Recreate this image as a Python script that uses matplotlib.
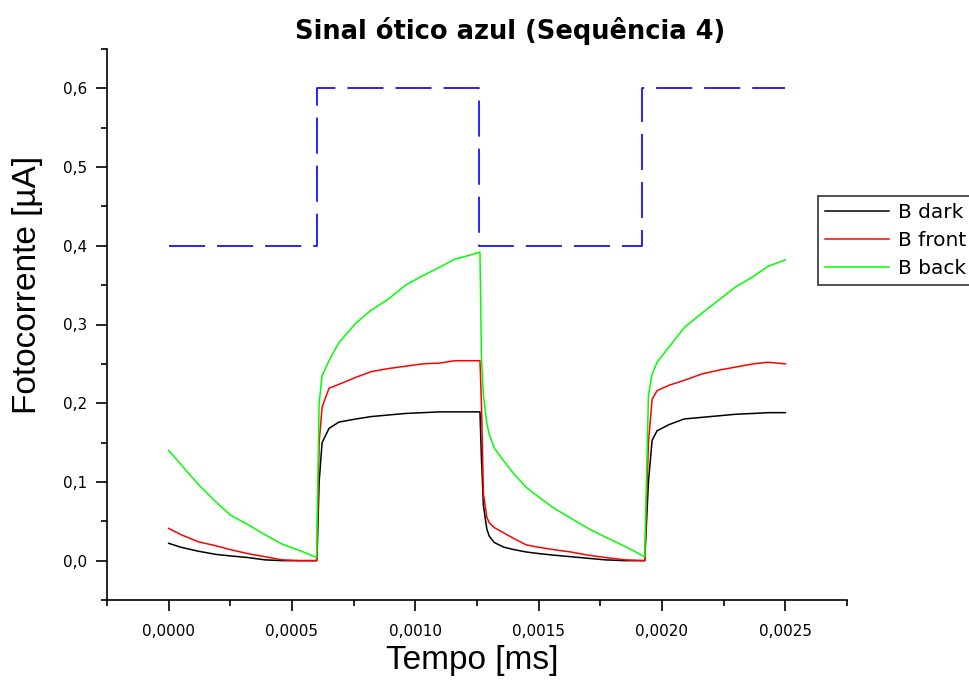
import matplotlib
matplotlib.use("Agg")
import matplotlib.pyplot as plt
from matplotlib.ticker import MultipleLocator, FuncFormatter

plt.rcParams['font.family'] = ['DejaVu Sans']
plt.rcParams['lines.scale_dashes'] = False

# time axis (as labelled, "ms")
t = [0.0, 0.00005, 0.00012, 0.00019, 0.00025, 0.00032, 0.00039, 0.00046, 0.00053, 0.0006,
     0.000602, 0.00061, 0.000622, 0.00065, 0.00069, 0.00076, 0.00082, 0.00089, 0.00096, 0.00103,
     0.0011, 0.00116, 0.00122, 0.001262, 0.001268, 0.001276, 0.00129, 0.0013, 0.00132, 0.00136,
     0.0014, 0.00145, 0.0015, 0.00156, 0.00163, 0.0017, 0.00177, 0.00185, 0.00193, 0.001945,
     0.00196, 0.00198, 0.00203, 0.00209, 0.00216, 0.00223, 0.0023, 0.00237, 0.00243, 0.0025]

b_dark = [0.022, 0.017, 0.012, 0.008, 0.006, 0.004, 0.001, 0.0, 0.0, 0.0,
          0.01, 0.10, 0.150, 0.168, 0.176, 0.180, 0.183, 0.185, 0.187, 0.188,
          0.189, 0.189, 0.189, 0.189, 0.13, 0.07, 0.040, 0.031, 0.023, 0.017,
          0.014, 0.011, 0.009, 0.007, 0.005, 0.003, 0.001, 0.0, 0.0, 0.10,
          0.153, 0.165, 0.173, 0.180, 0.182, 0.184, 0.186, 0.187, 0.188, 0.188]

b_front = [0.041, 0.033, 0.024, 0.019, 0.014, 0.009, 0.005, 0.001, 0.0, 0.0,
           0.02, 0.15, 0.195, 0.219, 0.224, 0.233, 0.240, 0.244, 0.247, 0.250,
           0.251, 0.254, 0.254, 0.254, 0.20, 0.085, 0.055, 0.048, 0.042, 0.035,
           0.028, 0.020, 0.017, 0.014, 0.011, 0.007, 0.004, 0.001, 0.0, 0.15,
           0.205, 0.216, 0.223, 0.229, 0.237, 0.242, 0.246, 0.250, 0.252, 0.250]

b_back = [0.140, 0.122, 0.097, 0.075, 0.058, 0.046, 0.033, 0.021, 0.013, 0.004,
          0.05, 0.20, 0.235, 0.254, 0.277, 0.302, 0.318, 0.332, 0.350, 0.362,
          0.373, 0.383, 0.388, 0.392, 0.26, 0.21, 0.174, 0.160, 0.143, 0.126,
          0.110, 0.093, 0.081, 0.067, 0.054, 0.041, 0.030, 0.018, 0.005, 0.21,
          0.237, 0.252, 0.272, 0.296, 0.314, 0.331, 0.348, 0.361, 0.374, 0.382]

# blue excitation square wave
pulse_t = [0.0, 0.0006, 0.00126, 0.00192, 0.0025]
pulse_v = [0.4, 0.6, 0.4, 0.6, 0.6]

fig = plt.figure(figsize=(9.69, 6.80), dpi=100)
ax = fig.add_axes([107/969, 80/680, 740/969, 551/680])

ax.plot(pulse_t, pulse_v, drawstyle='steps-post', color='#0000ff', lw=1.2,
        dashes=(26, 8.6))
l1, = ax.plot(t, b_dark, color='black', lw=1.1, label='B dark')
l2, = ax.plot(t, b_front, color='#ff0000', lw=1.1, label='B front')
l3, = ax.plot(t, b_back, color='#00ff00', lw=1.1, label='B back')

ax.set_xlim(-0.00025, 0.00275)
ax.set_ylim(-0.05, 0.65)
for s in ['top', 'right']:
    ax.spines[s].set_visible(False)
for s in ['left', 'bottom']:
    ax.spines[s].set_linewidth(1.2)

ax.xaxis.set_major_locator(MultipleLocator(0.0005))
ax.xaxis.set_minor_locator(MultipleLocator(0.00025))
ax.yaxis.set_major_locator(MultipleLocator(0.1))
ax.yaxis.set_minor_locator(MultipleLocator(0.05))
ax.xaxis.set_major_formatter(FuncFormatter(lambda v, p: f"{v:.4f}".replace('.', ',').replace('-0,0000', '0,0000')))
ax.yaxis.set_major_formatter(FuncFormatter(lambda v, p: f"{v:.1f}".replace('.', ',').replace('-0,0', '0,0')))
ax.tick_params(which='major', direction='out', length=8, width=1.2, labelsize=11, pad=6)
ax.tick_params(which='minor', direction='out', length=4, width=1.2)
ax.tick_params(axis='x', pad=9)

fig.text(510/969, 1 - 31/680, 'Sinal ótico azul (Sequência 4)', ha='center', va='center',
         fontsize=18.5, fontweight='bold')
fig.text(472/969, 1 - 660/680, 'Tempo [ms]', ha='center', va='center', fontsize=24,
         family=['Liberation Sans', 'DejaVu Sans'])
fig.text(28/969, 1 - 285/680, 'Fotocorrente [µA]', ha='center', va='center', fontsize=24,
         rotation=90, family=['Liberation Sans', 'DejaVu Sans'])

leg = fig.legend(handles=[l1, l2, l3], loc='upper left',
                 bbox_to_anchor=(818/969, 1 - 196/680), frameon=True, fancybox=False,
                 edgecolor='black', fontsize=14.5, handlelength=3.2, borderaxespad=0,
                 labelspacing=0.45, handletextpad=0.4, borderpad=0.35)
leg.get_frame().set_linewidth(1.2)

fig.savefig('out.png', dpi=100)
